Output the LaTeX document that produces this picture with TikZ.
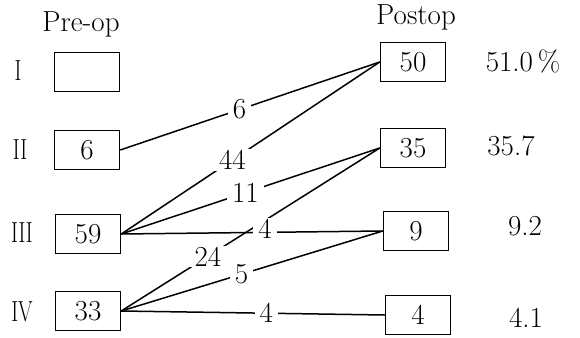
\documentclass[tikz,border=0pt]{standalone}
\usepackage{tikz}

\tikzset{
  box/.style={draw, line width=1.5pt, minimum width=65pt, minimum height=39pt, inner sep=0pt},
  cnt/.style={fill=white, inner xsep=5pt, inner ysep=1pt},
  link/.style={line width=1.5pt}
}
\newcommand{\grade}[1]{\scalebox{0.72}[1]{#1}}

\begin{document}
\begin{tikzpicture}[x=1pt, y=-1pt, font=\fontsize{29}{32}\selectfont]
  \useasboundingbox (0,0) rectangle (580,337);
      \node (pre) [anchor=base] at (81,32) {Pre-op};
      \node (post) [anchor=base] at (416,25) {Postop};
      \node (rI) at (18,71) {\grade{I}};
      \node (rII) at (20,150) {\grade{II}};
      \node (rIII) at (22,233) {\grade{III}};
      \node (rIV) at (22,312) {\grade{IV}};
      \node (a1) [box] at (87,72) {};
      \node (a2) [box] at (87,150) {6};
      \node (a3) [box] at (88,234) {59};
      \node (a4) [box] at (88,311) {33};
      \node (b1) [box] at (413,62) {50};
      \node (b2) [box] at (413,148) {35};
      \node (b3) [box] at (416,231) {9};
      \node (b4) [box] at (418,315) {4};
      \node (q1) at (523,61) {51.0\,\%};
      \node (q2) at (511,146) {35.7};
      \node (q3) at (525,226) {9.2};
      \node (q4) at (526,318) {4.1};
    \draw [link] (a2.east) to (b1.west);
    \draw [link] (a3.east) to (b1.west);
    \draw [link] (a3.east) to (b2.west);
    \draw [link] (a3.east) to (b3.west);
    \draw [link] (a4.east) to (b2.west);
    \draw [link] (a4.east) to (b3.west);
    \draw [link] (a4.east) to (b4.west);
    \path (a2.east) to node [cnt,pos=0.46] {6} (b1.west);
    \path (a3.east) to node [cnt,pos=0.43] {44} (b1.west);
    \path (a3.east) to node [cnt,pos=0.48] {11} (b2.west);
    \path (a4.east) to node [cnt,pos=0.335] {24} (b2.west);
    \path (a3.east) to node [cnt,pos=0.55,yshift=4pt] {4} (b3.west);
    \path (a4.east) to node [cnt,pos=0.46] {5} (b3.west);
    \path (a4.east) to node [cnt,pos=0.55] {4} (b4.west);
\end{tikzpicture}
\end{document}
